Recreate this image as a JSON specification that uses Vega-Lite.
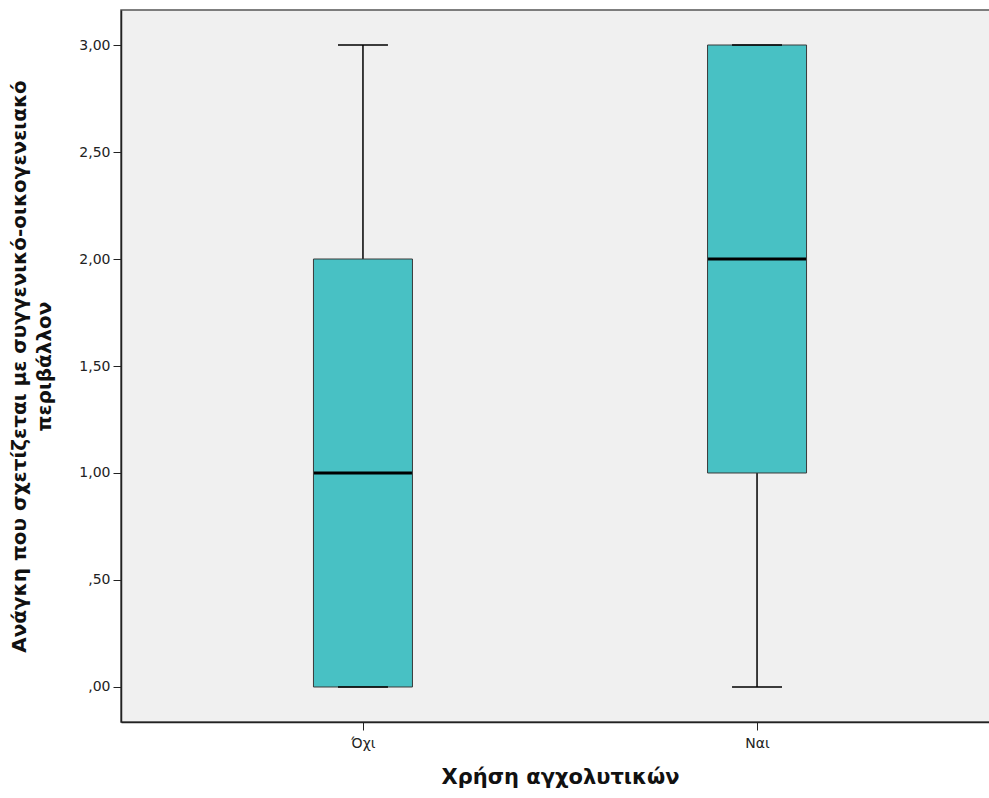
{
  "$schema": "https://vega.github.io/schema/vega-lite/v6.json",
  "autosize": {"type": "none"},
  "width": 878,
  "height": 712,
  "padding": {"left": 121, "top": 10, "right": 0, "bottom": 76},
  "background": "white",
  "config": {
    "view": {"fill": "#F0F0F0", "stroke": "#555555", "strokeWidth": 1.5},
    "font": "DejaVu Sans"
  },
  "data": {
    "values": [
      {"group": "Όχι", "min": 0, "q1": 0, "median": 1, "q3": 2, "max": 3},
      {"group": "Ναι", "min": 0, "q1": 1, "median": 2, "q3": 3, "max": 3}
    ]
  },
  "encoding": {
    "x": {
      "field": "group",
      "type": "nominal",
      "sort": ["Όχι", "Ναι"],
      "scale": {"type": "point", "padding": 0.614},
      "axis": {
        "title": "Χρήση αγχολυτικών",
        "titleFont": "DejaVu Sans",
        "titleFontSize": 21,
        "titleFontWeight": "bold",
        "titleColor": "#111111",
        "titlePadding": 16,
        "labelAngle": 0,
        "labelFont": "DejaVu Sans",
        "labelFontSize": 14,
        "labelColor": "#222222",
        "labelPadding": 6,
        "tickSize": 8,
        "tickColor": "#222222",
        "domainColor": "#222222",
        "domainWidth": 1.5,
        "grid": false
      }
    }
  },
  "layer": [
    {
      "mark": {"type": "rule", "color": "black", "strokeWidth": 1.5},
      "encoding": {
        "y": {
          "field": "min",
          "type": "quantitative",
          "scale": {"domain": [-0.1636, 3.1636], "nice": false, "zero": false},
          "axis": {
            "title": ["Ανάγκη που σχετίζεται  με συγγενικό-οικογενειακό", "περιβάλλον"],
            "titleFont": "DejaVu Sans",
            "titleFontSize": 20,
            "titleFontWeight": "bold",
            "titleColor": "#111111",
            "titleLineHeight": 25,
            "titlePadding": 24,
            "values": [0, 0.5, 1, 1.5, 2, 2.5, 3],
            "labelExpr": "datum.value < 1 ? replace(format(datum.value, '.2f'), '0.', ',') : replace(format(datum.value, '.2f'), '.', ',')",
            "labelFont": "DejaVu Sans",
            "labelFontSize": 14,
            "labelColor": "#222222",
            "labelPadding": 3,
            "tickSize": 8,
            "tickColor": "#222222",
            "domainColor": "#222222",
            "domainWidth": 1.5,
            "grid": false
          }
        },
        "y2": {"field": "max"}
      }
    },
    {
      "mark": {"type": "bar", "size": 99, "fill": "#48C1C4", "stroke": "#3a3a3a", "strokeWidth": 1},
      "encoding": {
        "y": {"field": "q1", "type": "quantitative"},
        "y2": {"field": "q3"}
      }
    },
    {
      "mark": {"type": "tick", "size": 50, "thickness": 1.5, "color": "black", "opacity": 1},
      "encoding": {"y": {"field": "max", "type": "quantitative"}}
    },
    {
      "mark": {"type": "tick", "size": 50, "thickness": 1.5, "color": "black", "opacity": 1},
      "encoding": {"y": {"field": "min", "type": "quantitative"}}
    },
    {
      "mark": {"type": "tick", "size": 98, "thickness": 3, "color": "black", "opacity": 1},
      "encoding": {"y": {"field": "median", "type": "quantitative"}}
    }
  ]
}
